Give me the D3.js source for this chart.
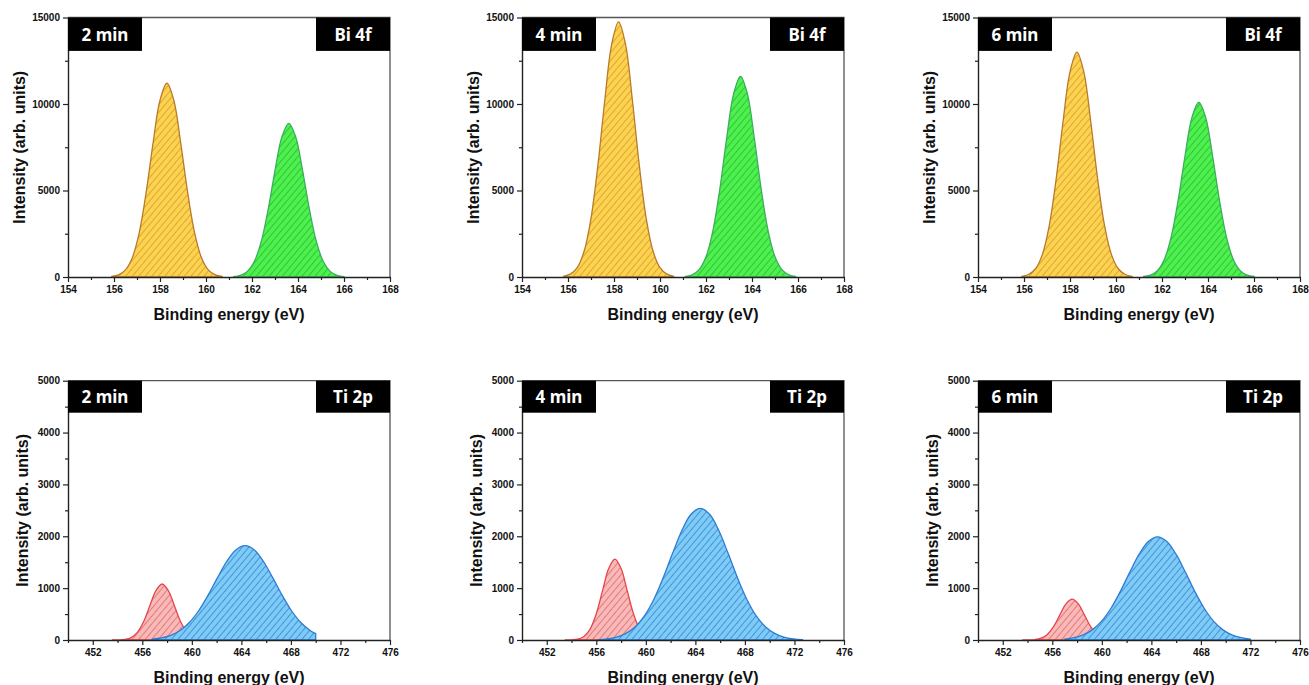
<!DOCTYPE html>
<html><head><meta charset="utf-8">
<script src="https://cdn.jsdelivr.net/npm/d3@7"></script>
<style>body{margin:0;background:#fff;} svg{display:block;}</style>
</head><body>
<svg id="c" width="1309" height="685"></svg>
<script>
// ---------- categories ----------
const times = ["2 min", "4 min", "6 min"];
const elements = ["Bi 4f", "Ti 2p"];
const xTitle = "Binding energy (eV)";
const yTitle = "Intensity (arb. units)";

// ---------- axis domains & tick labels ----------
const biDomainX = [154, 168];
const biDomainY = [0, 15000];
const tiDomainX = [450, 476];
const tiDomainY = [0, 5000];
const biTicksX = [154, 156, 158, 160, 162, 164, 166, 168];
const biMinorX = [155, 157, 159, 161, 163, 165, 167];
const biTicksY = [0, 5000, 10000, 15000];
const biMinorY = [2500, 7500, 12500];
const tiTicksX = [452, 456, 460, 464, 468, 472, 476];
const tiMinorX = [450, 454, 458, 462, 466, 470, 474];
const tiTicksY = [0, 1000, 2000, 3000, 4000, 5000];
const tiMinorY = [500, 1500, 2500, 3500, 4500];

// ---------- series values [binding energy, intensity] ----------
// Bi 4f, 2 min
const bi2_4f72 = [[155.9,31],[156.2,124],[156.5,411],[156.8,1128],[157.1,2577],[157.4,4901],[157.7,7757],[158.0,10218],[158.3,11200],[158.6,10218],[158.9,7757],[159.2,4901],[159.5,2577],[159.8,1128],[160.1,411],[160.4,124],[160.7,31]];
const bi2_4f52 = [[161.2,25],[161.5,99],[161.8,326],[162.1,894],[162.4,2043],[162.7,3886],[163.0,6150],[163.3,8101],[163.6,8880],[163.9,8101],[164.2,6150],[164.5,3886],[164.8,2043],[165.1,894],[165.4,326],[165.7,99],[166.0,25]];
// Bi 4f, 4 min
const bi4_4f72 = [[155.8,41],[156.1,164],[156.4,541],[156.7,1485],[157.0,3394],[157.3,6455],[157.6,10216],[157.9,13456],[158.2,14750],[158.5,13456],[158.8,10216],[159.1,6455],[159.4,3394],[159.7,1485],[160.0,541],[160.3,164],[160.6,41]];
const bi4_4f52 = [[161.1,32],[161.4,129],[161.7,426],[162.0,1168],[162.3,2669],[162.6,5076],[162.9,8034],[163.2,10583],[163.5,11600],[163.8,10583],[164.1,8034],[164.4,5076],[164.7,2669],[165.0,1168],[165.3,426],[165.6,129],[165.9,32]];
// Bi 4f, 6 min
const bi6_4f72 = [[155.9,36],[156.2,144],[156.5,477],[156.8,1309],[157.1,2991],[157.4,5689],[157.7,9004],[158.0,11860],[158.3,13000],[158.6,11860],[158.9,9004],[159.2,5689],[159.5,2991],[159.8,1309],[160.1,477],[160.4,144],[160.7,36]];
const bi6_4f52 = [[161.2,28],[161.5,112],[161.8,371],[162.1,1017],[162.4,2324],[162.7,4420],[163.0,6995],[163.3,9214],[163.6,10100],[163.9,9214],[164.2,6995],[164.5,4420],[164.8,2324],[165.1,1017],[165.4,371],[165.7,112],[166.0,28]];
// Ti 2p, 2 min
const ti2_2p32 = [[453.6,0],[454.1,2],[454.6,12],[455.1,47],[455.6,146],[456.1,351],[456.6,655],[457.1,953],[457.6,1080],[458.1,953],[458.6,655],[459.1,351],[459.6,146],[460.1,47],[460.6,12],[461.1,2],[461.6,0]];
const ti2_2p12 = [[456.8,17],[457.55,41],[458.3,91],[459.05,183],[459.8,337],[460.55,564],[461.3,860],[462.05,1194],[462.8,1509],[463.55,1737],[464.3,1820],[465.05,1737],[465.8,1509],[466.55,1194],[467.3,860],[468.05,564],[468.8,337],[469.55,183],[470.0,122]];
// Ti 2p, 4 min
const ti4_2p32 = [[453.5,0],[454.0,3],[454.5,17],[455.0,68],[455.5,211],[456.0,507],[456.5,946],[457.0,1377],[457.5,1560],[458.0,1377],[458.5,946],[459.0,507],[459.5,211],[460.0,68],[460.5,17],[461.0,3],[461.5,0]];
const ti4_2p12 = [[456.15,9],[456.9,23],[457.65,57],[458.4,127],[459.15,256],[459.9,470],[460.65,787],[461.4,1200],[462.15,1666],[462.9,2106],[463.65,2424],[464.4,2540],[465.15,2424],[465.9,2106],[466.65,1666],[467.4,1200],[468.15,787],[468.9,470],[469.65,256],[470.4,127],[471.15,57],[471.9,23],[472.65,9]];
// Ti 2p, 6 min
const ti6_2p32 = [[453.6,0],[454.1,2],[454.6,9],[455.1,35],[455.6,107],[456.1,257],[456.6,479],[457.1,697],[457.6,790],[458.1,697],[458.6,479],[459.1,257],[459.6,107],[460.1,35],[460.6,9],[461.1,2],[461.6,0]];
const ti6_2p12 = [[457.0,18],[457.75,45],[458.5,99],[459.25,200],[460.0,368],[460.75,617],[461.5,940],[462.25,1305],[463.0,1650],[463.75,1899],[464.5,1990],[465.25,1899],[466.0,1650],[466.75,1305],[467.5,940],[468.25,617],[469.0,368],[469.75,200],[470.5,99],[471.25,45],[472.0,18]];

// ---------- styles (kept separate from data) ----------
const styles = {
  yellow: {fill: "#FDD24F", hatch: "#D6A436", line: "#B97A2A"},
  green:  {fill: "#4DF04D", hatch: "#2FBF3A", line: "#3AAE5C"},
  red:    {fill: "#F9B9B9", hatch: "#E07474", line: "#E5474C"},
  blue:   {fill: "#7DCBF6", hatch: "#3D8FD2", line: "#2E7BD6"}
};

const panels = [
  {row:0, col:0, time:times[0], el:elements[0], dx:biDomainX, dy:biDomainY, tx:biTicksX, mx:biMinorX, ty:biTicksY, my:biMinorY, curves:[[bi2_4f72,"yellow"],[bi2_4f52,"green"]]},
  {row:0, col:1, time:times[1], el:elements[0], dx:biDomainX, dy:biDomainY, tx:biTicksX, mx:biMinorX, ty:biTicksY, my:biMinorY, curves:[[bi4_4f72,"yellow"],[bi4_4f52,"green"]]},
  {row:0, col:2, time:times[2], el:elements[0], dx:biDomainX, dy:biDomainY, tx:biTicksX, mx:biMinorX, ty:biTicksY, my:biMinorY, curves:[[bi6_4f72,"yellow"],[bi6_4f52,"green"]]},
  {row:1, col:0, time:times[0], el:elements[1], dx:tiDomainX, dy:tiDomainY, tx:tiTicksX, mx:tiMinorX, ty:tiTicksY, my:tiMinorY, curves:[[ti2_2p32,"red"],[ti2_2p12,"blue"]]},
  {row:1, col:1, time:times[1], el:elements[1], dx:tiDomainX, dy:tiDomainY, tx:tiTicksX, mx:tiMinorX, ty:tiTicksY, my:tiMinorY, curves:[[ti4_2p32,"red"],[ti4_2p12,"blue"]]},
  {row:1, col:2, time:times[2], el:elements[1], dx:tiDomainX, dy:tiDomainY, tx:tiTicksX, mx:tiMinorX, ty:tiTicksY, my:tiMinorY, curves:[[ti6_2p32,"red"],[ti6_2p12,"blue"]]}
];

// ---------- layout ----------
const colLeft = [68, 522, 978];
const rowTop = [17.5, 380.7];
const plotW = 322;
const plotH = [259.5, 259.3];
const yTitleOff = [43, 40];

const svg = d3.select("#c");
const defs = svg.append("defs");
Object.entries(styles).forEach(([k, s]) => {
  const p = defs.append("pattern").attr("id", "hatch-" + k)
    .attr("patternUnits", "userSpaceOnUse").attr("width", 5).attr("height", 5)
    .attr("patternTransform", "rotate(40)");
  p.append("rect").attr("width", 5).attr("height", 5).attr("fill", s.fill);
  p.append("line").attr("x1", 0.5).attr("y1", 0).attr("x2", 0.5).attr("y2", 5)
    .attr("stroke", s.hatch).attr("stroke-width", 0.9);
});

const tickFont = "'Liberation Sans', Arial, sans-serif";

panels.forEach((P, i) => {
  const left = colLeft[P.col], top = rowTop[P.row], h = plotH[P.row];
  const g = svg.append("g").attr("transform", `translate(${left},${top})`);
  const x = d3.scaleLinear().domain(P.dx).range([0, plotW]);
  const y = d3.scaleLinear().domain(P.dy).range([h, 0]);

  defs.append("clipPath").attr("id", "clip" + i)
    .append("rect").attr("width", plotW).attr("height", h + 1);

  const area = d3.area()
    .x(d => x(d[0])).y0(y(0)).y1(d => y(d[1]))
    .curve(d3.curveCatmullRom.alpha(0.5));

  const cg = g.append("g").attr("clip-path", `url(#clip${i})`);
  P.curves.forEach(([data, key]) => {
    cg.append("path").datum(data).attr("d", area)
      .attr("fill", `url(#hatch-${key})`)
      .attr("stroke", styles[key].line).attr("stroke-width", 1.3)
      .attr("stroke-linejoin", "round");
  });

  // frame (top & right)
  g.append("path").attr("d", `M0,0H${plotW}V${h}`).attr("fill", "none")
    .attr("stroke", "#555").attr("stroke-width", 1.3);

  // minor ticks
  g.append("g").attr("transform", `translate(0,${h})`)
    .call(d3.axisBottom(x).tickValues(P.mx).tickSize(3).tickFormat(""))
    .call(a => a.select(".domain").remove());
  g.append("g")
    .call(d3.axisLeft(y).tickValues(P.my).tickSize(3).tickFormat(""))
    .call(a => a.select(".domain").remove());

  // major axes
  const ax = g.append("g").attr("transform", `translate(0,${h})`)
    .call(d3.axisBottom(x).tickValues(P.tx).tickSize(5).tickSizeOuter(0).tickPadding(4).tickFormat(d3.format("d")));
  const ay = g.append("g")
    .call(d3.axisLeft(y).tickValues(P.ty).tickSize(5).tickSizeOuter(0).tickPadding(3).tickFormat(d3.format("d")));
  [ax, ay].forEach(a => {
    a.selectAll("text").attr("font-family", tickFont).attr("font-size", 10)
      .attr("font-weight", "bold").attr("fill", "#111");
    a.selectAll("line").attr("stroke", "#222").attr("stroke-width", 1.2);
    a.select(".domain").attr("stroke", "#222").attr("stroke-width", 1.4);
  });
  g.selectAll(".tick line").attr("stroke", "#222").attr("stroke-width", 1.2);

  // label boxes
  const bh = P.row === 0 ? 33.4 : 32;
  g.append("rect").attr("x", 0).attr("y", 0).attr("width", 74).attr("height", bh).attr("fill", "#000");
  g.append("text").attr("x", 37).attr("y", bh / 2 + 6.5).attr("text-anchor", "middle")
    .attr("font-family", "'Noto Sans', sans-serif").attr("font-weight", "bold")
    .attr("font-size", 17).attr("fill", "#fff").text(P.time);
  g.append("rect").attr("x", plotW - 74).attr("y", 0).attr("width", 74).attr("height", bh).attr("fill", "#000");
  g.append("text").attr("x", plotW - 37).attr("y", bh / 2 + 6.5).attr("text-anchor", "middle")
    .attr("font-family", "'Noto Sans', sans-serif").attr("font-weight", "bold")
    .attr("font-size", 17).attr("fill", "#fff").text(P.el);

  // axis titles
  g.append("text").attr("x", plotW / 2).attr("y", h + 43).attr("text-anchor", "middle")
    .attr("font-family", tickFont).attr("font-weight", "bold").attr("font-size", 16)
    .attr("fill", "#111").text(xTitle);
  g.append("text").attr("transform", `translate(${-yTitleOff[P.row]},${h / 2}) rotate(-90)`)
    .attr("text-anchor", "middle")
    .attr("font-family", tickFont).attr("font-weight", "bold").attr("font-size", 16)
    .attr("fill", "#111").text(yTitle);
});
</script>
</body></html>
